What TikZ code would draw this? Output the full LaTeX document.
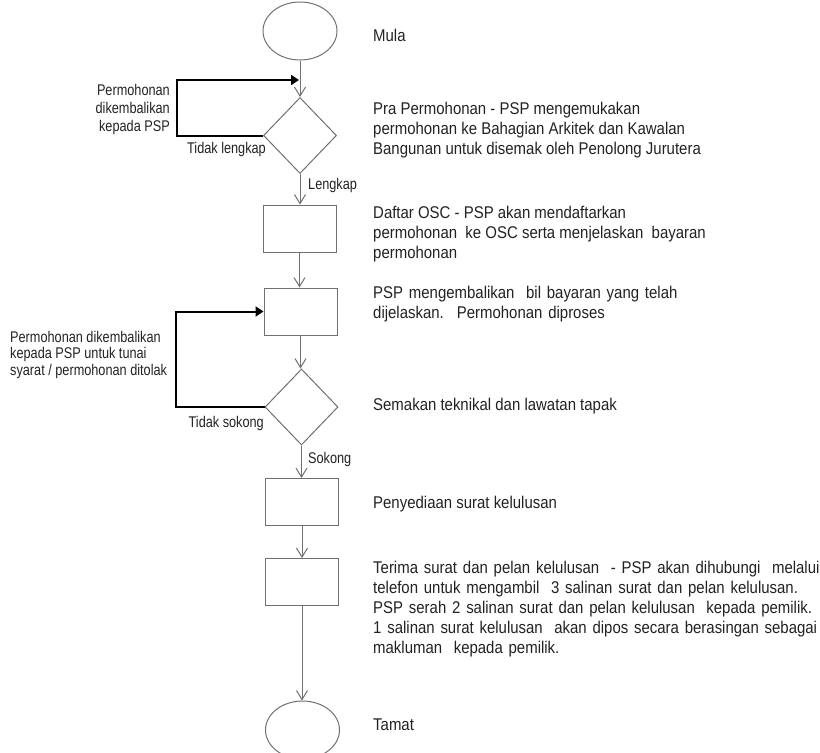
\documentclass[tikz,border=0pt]{standalone}
\usepackage{fontspec}
\setmainfont{Liberation Sans}[FakeStretch=0.88]
\usetikzlibrary{shapes.geometric,arrows.meta}
\definecolor{linegray}{HTML}{707070}
\definecolor{txt}{HTML}{222222}
\newcommand\mtfont{\fontsize{17}{20}\selectfont}
\newcommand\widesp{\spaceskip=5.8pt plus 1pt\relax}
\newcommand\lblfont{\fontsize{15.5}{18.3}\fontspec{Liberation Sans}[FakeStretch=0.82]}
\begin{document}
\begin{tikzpicture}[x=1pt,y=-1pt,
  flow/.style={draw=linegray, line width=1pt, inner sep=0pt},
  term/.style={flow, ellipse, minimum width=74pt, minimum height=58pt},
  dec/.style={flow, diamond, minimum width=73pt, minimum height=76pt},
  proc/.style={flow, rectangle, minimum width=73pt, minimum height=47pt},
  arr/.style={draw=linegray, line width=1pt, -{Straight Barb[length=9pt,width=11pt]}},
  back/.style={draw=black, line width=2pt, -{Triangle[length=8pt,width=10pt]}},
  desc/.style={inner sep=0pt, text=txt, font=\mtfont, align=left},
  lbl/.style={inner sep=0pt, text=txt, font=\lblfont}
]
\useasboundingbox (0,0) rectangle (820,753);
% shapes
\node[term] (e1) at (300,31) {};
\node[dec]  (d1) at (300,135.5) {};
\node[proc] (b1) at (299.5,228.5) {};
\node[proc] (b2) at (300.5,311.5) {};
\node[dec]  (d2) at (301.5,407) {};
\node[proc] (b3) at (302,502) {};
\node[proc] (b4) at (302,582) {};
\node[term] (e2) at (302.5,730) {};
% main arrows
\draw[arr] (e1.south) -- (e1.south |- d1.north);
\draw[arr] (d1.south) -- (d1.south |- b1.north);
\draw[arr] (b1.south) -- (b1.south |- b2.north);
\draw[arr] (b2.south) -- (b2.south |- d2.north);
\draw[arr] (d2.south) -- (d2.south |- b3.north);
\draw[arr] (b3.south) -- (b3.south |- b4.north);
\draw[arr] (b4.south) -- (b4.south |- e2.north);
% loops
\coordinate (j1) at (299,80);
\draw[back] (d1.west) -- ++(-86,0) |- (j1);
\draw[back] (d2.west) -- ++(-89,0) |- (b2.west);
% branch labels
\node[lbl, anchor=base east] (tl) at (266,153) {Tidak lengkap};
\node[lbl, anchor=base west] (lk) at (308,189) {Lengkap};
\node[lbl, anchor=base east] (ts) at (264,427) {Tidak sokong};
\node[lbl, anchor=base west] (sk) at (308,463) {Sokong};
\node[lbl, align=right, anchor=north east] (l1) at (170,82.2)
  {\strut Permohonan\\dikembalikan\\kepada PSP};
\node[lbl, font=\lblfont\fontsize{15.5}{16.5}\selectfont, align=left, anchor=north west] (l2) at (10,330.5)
  {\strut Permohonan dikembalikan\\kepada PSP untuk tunai\\syarat / permohonan ditolak};
% descriptions
\node[desc, anchor=base west] (t1) at (373,41) {Mula};
\node[desc, anchor=north west] (t2) at (373,100)
  {\strut Pra Permohonan - PSP mengemukakan\\permohonan ke Bahagian Arkitek dan Kawalan\\Bangunan untuk disemak oleh Penolong Jurutera};
\node[desc, anchor=north west] (t3) at (373,204)
  {\strut Daftar OSC - PSP akan mendaftarkan\\permohonan~ ke OSC serta menjelaskan~ bayaran\\permohonan};
\node[desc, anchor=north west] (t4) at (373,284)
  {\widesp\strut PSP mengembalikan~ bil bayaran yang telah\\\widesp dijelaskan.~ Permohonan diproses};
\node[desc, anchor=base west] (t5) at (373,410) {Semakan teknikal dan lawatan tapak};
\node[desc, anchor=base west] (t6) at (373,508) {Penyediaan surat kelulusan};
\node[desc, anchor=north west] (t7) at (373,559)
  {\widesp\strut Terima surat dan pelan kelulusan~ - PSP akan dihubungi~ melalui\\\widesp telefon untuk mengambil~ 3 salinan surat dan pelan kelulusan.\\\widesp PSP serah 2 salinan surat dan pelan kelulusan~ kepada pemilik.\\\widesp 1 salinan surat kelulusan~ akan dipos secara berasingan sebagai\\\widesp makluman~ kepada pemilik.};
\node[desc, anchor=base west] (t8) at (373,730) {Tamat};
\end{tikzpicture}
\end{document}
